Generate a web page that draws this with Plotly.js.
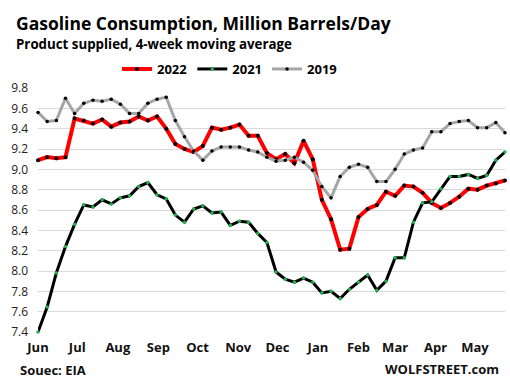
<!DOCTYPE html>
<html>
<head>
<meta charset="utf-8">
<script src="https://cdn.plot.ly/plotly-3.0.1.min.js"></script>
<style>
html,body{margin:0;padding:0;background:#fff;}
#chart{width:510px;height:387px;}
</style>
</head>
<body>
<div id="chart"></div>
<script>
// Weekly dates (shared June-to-May axis)
const weeks = [
  '2021-06-01','2021-06-08','2021-06-15','2021-06-22','2021-06-29',
  '2021-07-06','2021-07-13','2021-07-20','2021-07-27',
  '2021-08-03','2021-08-10','2021-08-17','2021-08-24','2021-08-31',
  '2021-09-07','2021-09-14','2021-09-21','2021-09-28',
  '2021-10-05','2021-10-12','2021-10-19','2021-10-26',
  '2021-11-02','2021-11-09','2021-11-16','2021-11-23','2021-11-30',
  '2021-12-07','2021-12-14','2021-12-21','2021-12-28',
  '2022-01-04','2022-01-11','2022-01-18','2022-01-25',
  '2022-02-01','2022-02-08','2022-02-15','2022-02-22',
  '2022-03-01','2022-03-08','2022-03-15','2022-03-22','2022-03-29',
  '2022-04-05','2022-04-12','2022-04-19','2022-04-26',
  '2022-05-03','2022-05-10','2022-05-17','2022-05-24'
];

const series2022 = [
  9.09, 9.12, 9.11, 9.12, 9.50, 9.48, 9.45, 9.49, 9.42, 9.46,
  9.47, 9.52, 9.48, 9.52, 9.40, 9.25, 9.20, 9.17, 9.23, 9.41,
  9.39, 9.41, 9.44, 9.33, 9.33, 9.16, 9.10, 9.15, 9.06, 9.28,
  9.10, 8.70, 8.51, 8.21, 8.22, 8.53, 8.61, 8.65, 8.78, 8.74,
  8.84, 8.83, 8.77, 8.67, 8.62, 8.67, 8.73, 8.81, 8.80, 8.84,
  8.86, 8.89
];

const series2021 = [
  7.40, 7.645, 7.98, 8.24, 8.46, 8.65, 8.63, 8.70, 8.66, 8.72,
  8.74, 8.83, 8.87, 8.75, 8.71, 8.55, 8.48, 8.61, 8.64, 8.57,
  8.58, 8.45, 8.49, 8.48, 8.37, 8.28, 7.99, 7.92, 7.89, 7.93,
  7.89, 7.785, 7.80, 7.73, 7.82, 7.89, 7.96, 7.81, 7.90, 8.13,
  8.13, 8.48, 8.67, 8.68, 8.81, 8.93, 8.93, 8.95, 8.91, 8.94,
  9.09, 9.17
];

const series2019 = [
  9.56, 9.47, 9.48, 9.70, 9.55, 9.65, 9.68, 9.67, 9.69, 9.64,
  9.55, 9.55, 9.65, 9.69, 9.71, 9.48, 9.32, 9.18, 9.09, 9.18,
  9.22, 9.22, 9.22, 9.19, 9.17, 9.12, 9.08, 9.09, 9.12, 9.07,
  8.99, 8.83, 8.72, 8.93, 9.02, 9.05, 9.02, 8.88, 8.88, 9.00,
  9.15, 9.19, 9.21, 9.37, 9.37, 9.45, 9.47, 9.48, 9.41, 9.41,
  9.46, 9.36
];

const seriesNames = ['2022', '2021', '2019'];

const FONT = '"Open Sans", "DejaVu Sans", sans-serif';

const traces = [
  {
    x: weeks, y: series2022, name: seriesNames[0], type: 'scatter', mode: 'lines+markers',
    line: {color: '#ff0000', width: 4},
    marker: {color: '#000000', size: 4},
    cliponaxis: false
  },
  {
    x: weeks, y: series2021, name: seriesNames[1], type: 'scatter', mode: 'lines+markers',
    line: {color: '#000000', width: 3},
    marker: {color: '#22b14c', size: 3.5},
    cliponaxis: false
  },
  {
    x: weeks, y: series2019, name: seriesNames[2], type: 'scatter', mode: 'lines+markers',
    line: {color: '#a6a6a6', width: 3},
    marker: {color: '#000000', size: 3.5},
    cliponaxis: false
  }
];

const L = 38, R = 5, T = 88, B = 55;
const W = 510, H = 387;
const pw = W - L - R, ph = H - T - B;
function px(x){ return (x - L) / pw; }
function py(y){ return (H - B - y) / ph; }

const layout = {
  width: W, height: H, autosize: false,
  margin: {l: L, r: R, t: T, b: B, pad: 0},
  paper_bgcolor: '#ffffff', plot_bgcolor: '#ffffff',
  font: {family: FONT, color: '#000'},
  showlegend: true,
  legend: {
    orientation: 'h', x: px(117), xanchor: 'left', y: py(69), yanchor: 'middle',
    font: {family: FONT, size: 13, color: '#000', weight: 'bold'},
    bgcolor: 'rgba(0,0,0,0)', traceorder: 'normal', itemwidth: 30
  },
  xaxis: {
    type: 'date',
    range: [weeks[0], weeks[weeks.length - 1]],
    tick0: '2021-06-01', dtick: 'M1', tickformat: '%b',
    showgrid: false, zeroline: false, showline: false, ticks: '',
    tickfont: {family: FONT, size: 13, color: '#111', weight: 'bold'},
    ticklabelstandoff: 6,
    fixedrange: true
  },
  yaxis: {
    range: [7.4, 9.8], dtick: 0.2, tick0: 7.4, tickformat: '.1f',
    showgrid: true, gridcolor: '#d9d9d9', gridwidth: 1,
    zeroline: false, showline: false, ticks: '',
    tickfont: {family: FONT, size: 12, color: '#222'},
    ticklabelstandoff: 9,
    fixedrange: true
  },
  annotations: [
    {text: 'Gasoline Consumption, Million Barrels/Day', xref: 'paper', yref: 'paper',
     x: px(14), y: py(23), xanchor: 'left', yanchor: 'middle', showarrow: false,
     font: {family: FONT, size: 17.5, color: '#000', weight: 'bold'}},
    {text: 'Product supplied, 4-week moving average', xref: 'paper', yref: 'paper',
     x: px(14), y: py(44), xanchor: 'left', yanchor: 'middle', showarrow: false,
     font: {family: FONT, size: 13.3, color: '#000', weight: 'bold'}},
    {text: 'Souec: EIA', xref: 'paper', yref: 'paper',
     x: px(18), y: py(370), xanchor: 'left', yanchor: 'middle', showarrow: false,
     font: {family: FONT, size: 13, color: '#111', weight: 'bold'}},
    {text: 'WOLFSTREET.com', xref: 'paper', yref: 'paper',
     x: px(501), y: py(369), xanchor: 'right', yanchor: 'middle', showarrow: false,
     font: {family: FONT, size: 13, color: '#111', weight: 'bold'}}
  ]
};

Plotly.newPlot('chart', traces, layout, {displayModeBar: false, staticPlot: true});
</script>
</body>
</html>
